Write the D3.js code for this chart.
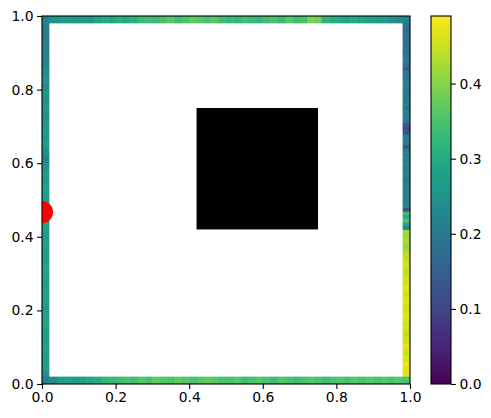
<!DOCTYPE html>
<html><head><meta charset="utf-8">
<script src="https://cdn.jsdelivr.net/npm/d3@7"></script>
<style>body{margin:0;background:#fff}svg{display:block}text{font-family:"DejaVu Sans",sans-serif;font-size:13.9px;fill:#000}</style>
</head><body><svg id="c" width="491" height="418"></svg>
<script>
// Border values (top/bottom run left->right, left/right run bottom->top)
const topValues = [0.22,0.25,0.26,0.27,0.26,0.27,0.26,0.29,0.30,0.29,0.31,0.30,0.31,0.33,0.34,0.33,0.35,0.36,0.34,0.35,0.37,0.36,0.35,0.36,0.34,0.33,0.32,0.34,0.33,0.32,0.34,0.35,0.33,0.36,0.34,0.35,0.39,0.38,0.32,0.31,0.30,0.29,0.30,0.29,0.28,0.27,0.27,0.24,0.23,0.22];
const bottomValues = [0.21,0.24,0.27,0.28,0.27,0.28,0.29,0.30,0.32,0.33,0.34,0.35,0.34,0.36,0.35,0.37,0.36,0.35,0.37,0.36,0.35,0.36,0.37,0.36,0.35,0.35,0.36,0.34,0.35,0.36,0.35,0.34,0.36,0.35,0.34,0.35,0.36,0.35,0.34,0.35,0.36,0.35,0.36,0.35,0.36,0.35,0.36,0.35,0.36,0.35];
const leftValues = [0.22,0.25,0.27,0.28,0.27,0.28,0.27,0.28,0.29,0.28,0.27,0.28,0.28,0.27,0.28,0.29,0.28,0.27,0.28,0.28,0.27,0.28,0.27,0.28,0.27,0.27,0.28,0.26,0.27,0.26,0.22,0.25,0.27,0.26,0.27,0.26,0.25,0.26,0.25,0.26,0.24,0.25,0.23,0.22,0.21,0.22,0.21,0.20,0.21,0.22];
const rightValues = [0.47,0.48,0.47,0.46,0.47,0.48,0.46,0.47,0.45,0.46,0.47,0.45,0.46,0.44,0.45,0.46,0.45,0.46,0.47,0.46,0.45,0.46,0.47,0.46,0.45,0.46,0.47,0.45,0.46,0.45,0.44,0.45,0.46,0.45,0.44,0.44,
  0.42,0.41,0.42,0.43,0.41,0.42,
  0.22,0.28,0.35,0.30,0.34,0.12,
  0.22,0.21,0.22,0.21,0.22,0.21,0.22,0.20,0.21,0.22,0.21,0.22,0.21,0.22,0.20,0.21,0.14,0.20,0.21,0.20,0.12,0.11,0.13,0.19,0.20,0.21,0.20,0.19,0.20,0.21,0.20,0.19,0.20,0.21,0.20,0.19,0.20,0.14,0.18,0.19,0.20,0.18,0.17,0.18,0.17,0.18,0.17,0.18,0.17,0.18,0.17,0.18];
const obstacle = {x0:0.42, x1:0.75, y0:0.42, y1:0.75};
const source = {x:0, y:0.467, r:0.03};
const axisTicks = [0,0.2,0.4,0.6,0.8,1.0];
const cbarTicks = [0,0.1,0.2,0.3,0.4];
const vmin = 0, vmax = 0.49;
const thick = 0.02;

const svg = d3.select("#c");
const L=42, T=16, W=368, H=368;
const x = d3.scaleLinear().domain([0,1]).range([L,L+W]);
const y = d3.scaleLinear().domain([0,1]).range([T+H,T]);
const color = d3.scaleSequential(d3.interpolateViridis).domain([vmin,vmax]);

svg.append("clipPath").attr("id","ax").append("rect").attr("x",L).attr("y",T).attr("width",W).attr("height",H);
const g = svg.append("g").attr("clip-path","url(#ax)");

function vert(vals, x0){
  const n=vals.length;
  g.selectAll(null).data(vals).enter().append("rect")
   .attr("x",x(x0)).attr("width",x(x0+thick)-x(x0))
   .attr("y",(d,i)=>y((i+1)/n)).attr("height",(d,i)=>y(i/n)-y((i+1)/n)+0.5)
   .attr("fill",d=>color(d));
}
function horiz(vals, y0){
  const n=vals.length;
  g.selectAll(null).data(vals).enter().append("rect")
   .attr("y",y(y0+thick)).attr("height",y(y0)-y(y0+thick))
   .attr("x",(d,i)=>x(i/n)).attr("width",(d,i)=>x((i+1)/n)-x(i/n)+0.5)
   .attr("fill",d=>color(d));
}
vert(leftValues,0);
vert(rightValues,1-thick);
horiz(bottomValues,0);
horiz(topValues,1-thick);

g.append("rect").attr("x",x(obstacle.x0)).attr("y",y(obstacle.y1))
 .attr("width",x(obstacle.x1)-x(obstacle.x0)).attr("height",y(obstacle.y0)-y(obstacle.y1)).attr("fill","#000");
g.append("circle").attr("cx",x(source.x)).attr("cy",y(source.y)).attr("r",x(source.r)-x(0)).attr("fill","#ff0000");

svg.append("rect").attr("x",L).attr("y",T).attr("width",W).attr("height",H).attr("fill","none").attr("stroke","#000").attr("stroke-width",1.1);

const xa = svg.append("g").attr("transform",`translate(0,${T+H})`)
 .call(d3.axisBottom(x).tickValues(axisTicks).tickFormat(d3.format(".1f")).tickSize(4.9).tickPadding(3.5));
const ya = svg.append("g").attr("transform",`translate(${L},0)`)
 .call(d3.axisLeft(y).tickValues(axisTicks).tickFormat(d3.format(".1f")).tickSize(4.9).tickPadding(3.5));
[xa,ya].forEach(a=>{a.select(".domain").remove();a.selectAll("line").attr("stroke","#000").attr("stroke-width",1.1);a.selectAll("text").attr("font-size",null).attr("font-family",null);});

// colorbar
const CL=431, CW=20;
const cy = d3.scaleLinear().domain([vmin,vmax]).range([T+H,T]);
const grad = svg.append("defs").append("linearGradient").attr("id","vg").attr("x1",0).attr("y1",1).attr("x2",0).attr("y2",0);
d3.range(0,1.0001,0.02).forEach(t=>grad.append("stop").attr("offset",t).attr("stop-color",d3.interpolateViridis(t)));
svg.append("rect").attr("x",CL).attr("y",T).attr("width",CW).attr("height",H).attr("fill","url(#vg)").attr("stroke","#000").attr("stroke-width",1.1);
const ca = svg.append("g").attr("transform",`translate(${CL+CW},0)`)
 .call(d3.axisRight(cy).tickValues(cbarTicks).tickFormat(d3.format(".1f")).tickSize(4.9).tickPadding(3.5));
ca.select(".domain").remove();ca.selectAll("line").attr("stroke","#000").attr("stroke-width",1.1);ca.selectAll("text").attr("font-size",null).attr("font-family",null);
</script></body></html>
